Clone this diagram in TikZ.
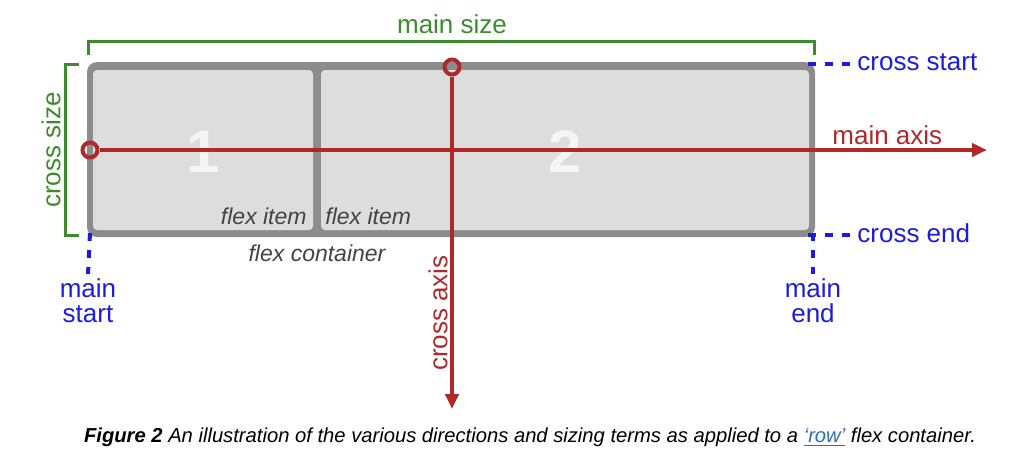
\documentclass[tikz,border=0pt]{standalone}
\usepackage{fontspec}
\setmainfont{Liberation Sans}
\usetikzlibrary{arrows.meta}
\definecolor{axisred}{HTML}{B0292A}
\definecolor{sizegreen}{HTML}{3C8C2E}
\definecolor{edgeblue}{HTML}{1C1CE0}
\definecolor{boxgray}{HTML}{8C8C8C}
\definecolor{itemgray}{HTML}{DDDDDD}
\definecolor{notegray}{HTML}{444444}
\definecolor{linkblue}{HTML}{2F6DB5}

\begin{document}
\begin{tikzpicture}[x=0.5pt, y=-0.5pt,
  axisline/.style={draw=axisred, line width=2pt, -{Triangle[length=7.5pt, width=6.5pt]}},
  axisdot/.style={circle, draw=axisred, line width=2pt, inner sep=0pt, minimum size=7.5pt},
  bracket/.style={draw=sizegreen, line width=1.5pt},
  edgemark/.style={draw=edgeblue, line width=2pt, dash pattern=on 4pt off 4.5pt},
  termlabel/.style={font=\fontsize{13}{12.5}\selectfont, inner sep=0pt},
  itemnote/.style={font=\fontsize{11.5}{13}\selectfont\itshape, text=notegray, inner sep=0pt},
  itemnum/.style={font=\fontsize{30}{30}\selectfont\bfseries, text=white!96!black, inner sep=0pt}
]
\useasboundingbox (0,0) rectangle (1024,462);

% flex container and its two items
\fill[boxgray, rounded corners=5pt] (87,62) rectangle (815,237);
\fill[itemgray, rounded corners=2pt] (93,70) rectangle (313,230);
\fill[itemgray, rounded corners=2pt] (321,70) rectangle (809,230);
\node[itemnum] (num1) at (203,152) {1};
\node[itemnum] (num2) at (565,152) {2};
\node[itemnote, anchor=east] (item1) at (307,216) {flex item};
\node[itemnote, anchor=west] (item2) at (325,216) {flex item};
\node[itemnote] (container) at (317,253) {flex container};

% sizes
\draw[bracket] (88,55) -- (88,41) -- (814,41) -- (814,55);
\node[termlabel, text=sizegreen] (mainsize) at (452,24) {main size};
\draw[bracket] (79,64) -- (65,64) -- (65,235) -- (79,235);
\node[termlabel, text=sizegreen, rotate=90] (crosssize) at (51,150) {cross size};

% start and end edges
\node[termlabel, text=edgeblue, anchor=west] (crossstart) at (857,62) {cross start};
\node[termlabel, text=edgeblue, anchor=west] (crossend) at (857,233) {cross end};
\node[termlabel, text=edgeblue, align=center] (mainstart) at (88,301) {main\\start};
\node[termlabel, text=edgeblue, align=center] (mainend) at (813,301) {main\\end};
\draw[edgemark] (808,64) -- (crossstart.west |- 0,64);
\draw[edgemark] (808,235) -- (crossend.west |- 0,235);
\draw[edgemark] (90,233) -- (mainstart.north |- 0,274);
\draw[edgemark] (813,233) -- (mainend.north |- 0,274);

% axes
\node[axisdot] (mainorig) at (90,150) {};
\node[axisdot] (crossorig) at (452,67) {};
\coordinate (maintip) at (987,150);
\coordinate (crosstip) at (452,409);
\draw[axisline] (mainorig) -- (maintip);
\draw[axisline] (crossorig) -- (crosstip);
\node[termlabel, text=axisred, anchor=west] (mainaxis) at (832,135) {main axis};
\node[termlabel, text=axisred, rotate=90] (crossaxis) at (438,313) {cross axis};

% caption
\node[font=\fontsize{10.1}{12}\selectfont\itshape, inner sep=0pt] (caption) at (530,437)
  {\textbf{Figure 2} An illustration of the various directions and sizing terms as applied to a \textcolor{linkblue}{\underline{‘row’}} flex container.};
\end{tikzpicture}
\end{document}
